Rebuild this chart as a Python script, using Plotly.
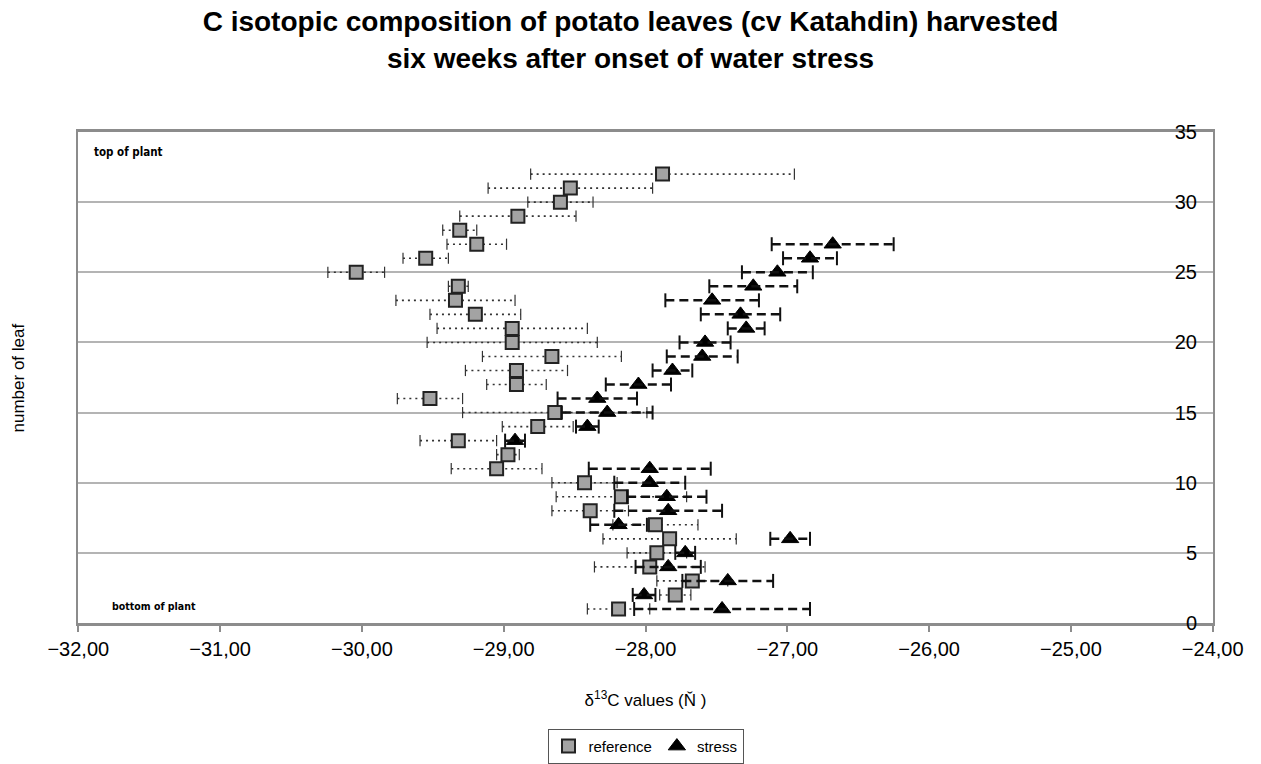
import plotly.graph_objects as go

# ---- data ----
leaf_ref = list(range(1, 33))
ref_mean = [-28.19, -27.79, -27.67, -27.97, -27.92, -27.83, -27.93, -28.39, -28.17, -28.43,
            -29.05, -28.97, -29.32, -28.76, -28.64, -29.52, -28.91, -28.91, -28.66, -28.94,
            -28.94, -29.20, -29.34, -29.32, -30.04, -29.55, -29.19, -29.31, -28.90, -28.60,
            -28.53, -27.88]
ref_err = [0.22, 0.11, 0.25, 0.39, 0.21, 0.47, 0.30, 0.27, 0.46, 0.23,
           0.32, 0.08, 0.27, 0.25, 0.65, 0.23, 0.21, 0.36, 0.49, 0.60,
           0.53, 0.32, 0.42, 0.07, 0.20, 0.16, 0.21, 0.12, 0.41, 0.23,
           0.58, 0.93]

leaf_str = [1, 2, 3, 4, 5, 6, 7, 8, 9, 10, 11, 13, 14, 15, 16, 17, 18, 19, 20, 21,
            22, 23, 24, 25, 26, 27]
str_mean = [-27.46, -28.01, -27.42, -27.84, -27.72, -26.98, -28.19, -27.84, -27.85, -27.97,
            -27.97, -28.92, -28.41, -28.27, -28.34, -28.05, -27.81, -27.60, -27.58, -27.29,
            -27.33, -27.53, -27.24, -27.07, -26.84, -26.68]
str_err = [0.62, 0.08, 0.32, 0.23, 0.07, 0.14, 0.20, 0.38, 0.28, 0.25,
           0.43, 0.07, 0.08, 0.32, 0.28, 0.23, 0.14, 0.25, 0.18, 0.13,
           0.28, 0.33, 0.31, 0.25, 0.19, 0.43]

x_ticks = [-32, -31, -30, -29, -28, -27, -26, -25, -24]
y_ticks = [0, 5, 10, 15, 20, 25, 30, 35]


def bar_segments(means, errs, leaves):
    xs, ys = [], []
    for m, e, l in zip(means, errs, leaves):
        xs += [m - e, m + e, None]
        ys += [l, l, None]
    return xs, ys


fig = go.Figure()

rx, ry = bar_segments(ref_mean, ref_err, leaf_ref)
fig.add_trace(go.Scatter(
    x=rx, y=ry, mode="lines+markers", showlegend=False, hoverinfo="skip",
    line=dict(color="#333333", width=1.6, dash="2px,4px"),
    marker=dict(symbol="line-ns", size=8, line=dict(color="#333333", width=1.2)),
))
sx, sy = bar_segments(str_mean, str_err, leaf_str)
fig.add_trace(go.Scatter(
    x=sx, y=sy, mode="lines+markers", showlegend=False, hoverinfo="skip",
    yaxis="y2",
    line=dict(color="#111111", width=2.5, dash="9px,5px"),
    marker=dict(symbol="line-ns", size=10, line=dict(color="#111111", width=2)),
))

fig.add_trace(go.Scatter(
    x=ref_mean, y=leaf_ref, mode="markers", name="reference",
    marker=dict(symbol="square", size=13, color="#a3a3a3",
                line=dict(color="#222222", width=2)),
))
fig.add_trace(go.Scatter(
    x=str_mean, y=leaf_str, mode="markers", name="stress",
    marker=dict(symbol="triangle-up", size=15, color="#000000",
                line=dict(color="#000000", width=1)),
))

FONT = "Liberation Sans, Arial, sans-serif"
NARROW = "Liberation Sans Narrow, DejaVu Sans Condensed, sans-serif"

fig.update_layout(
    width=1261, height=764,
    paper_bgcolor="white", plot_bgcolor="white",
    separators=",.",
    margin=dict(l=78, r=48, t=132, b=141),
    font=dict(family=FONT, color="#000000"),
    title=dict(
        text="<b>C isotopic composition of potato leaves (cv Katahdin) harvested<br>six weeks after onset of water stress</b>",
        x=0.5, xanchor="center", y=0.959, yanchor="middle",
        font=dict(size=28, family=FONT),
    ),
    xaxis=dict(
        range=[-32.002, -23.998], tickvals=x_ticks, tickformat=".2f",
        showgrid=False, zeroline=False,
        showline=True, linecolor="#8c8c8c", linewidth=3, mirror=True,
        ticks="outside", ticklen=6, tickcolor="#8c8c8c", tickwidth=1.5,
        ticklabelstandoff=0,
        tickfont=dict(size=20),
        title=dict(text="δ<sup>13</sup>C values (Ň )", font=dict(size=17), standoff=36),
    ),
    yaxis=dict(
        range=[0, 35], tickvals=y_ticks, side="right", showticklabels=False, ticks="",
        showgrid=True, gridcolor="#b4b4b4", gridwidth=2, zeroline=False,
        showline=True, linecolor="#8c8c8c", linewidth=2, mirror=True,
    ),
    yaxis2=dict(
        range=[0, 35], tickvals=y_ticks, overlaying="y", anchor="free", position=1,
        side="left", ticks="", showgrid=False, zeroline=False, showline=False,
        ticklabelstandoff=16, tickfont=dict(size=20),
    ),
    legend=dict(
        orientation="h", xref="paper", x=0.5, xanchor="center",
        yref="container", y=0.046, yanchor="top",
        bordercolor="#555555", borderwidth=1, font=dict(size=15),
        itemwidth=30, tracegroupgap=0,
    ),
    annotations=[
        dict(text="number of leaf", xref="paper", yref="paper", x=-0.052, y=0.5,
             xanchor="center", yanchor="middle", textangle=-90, showarrow=False,
             font=dict(size=17)),
        dict(text="<b>top of plant</b>", xref="paper", yref="paper", x=0.012, y=0.96,
             xanchor="left", yanchor="middle", showarrow=False,
             font=dict(size=11.5, family=NARROW)),
        dict(text="<b>bottom of plant</b>", xref="paper", yref="paper", x=0.028, y=0.035,
             xanchor="left", yanchor="middle", showarrow=False,
             font=dict(size=10.5, family=NARROW)),
    ],
)

fig.write_html("out.html", config={"displayModeBar": False},
               post_script="document.body.style.margin='0px';")
